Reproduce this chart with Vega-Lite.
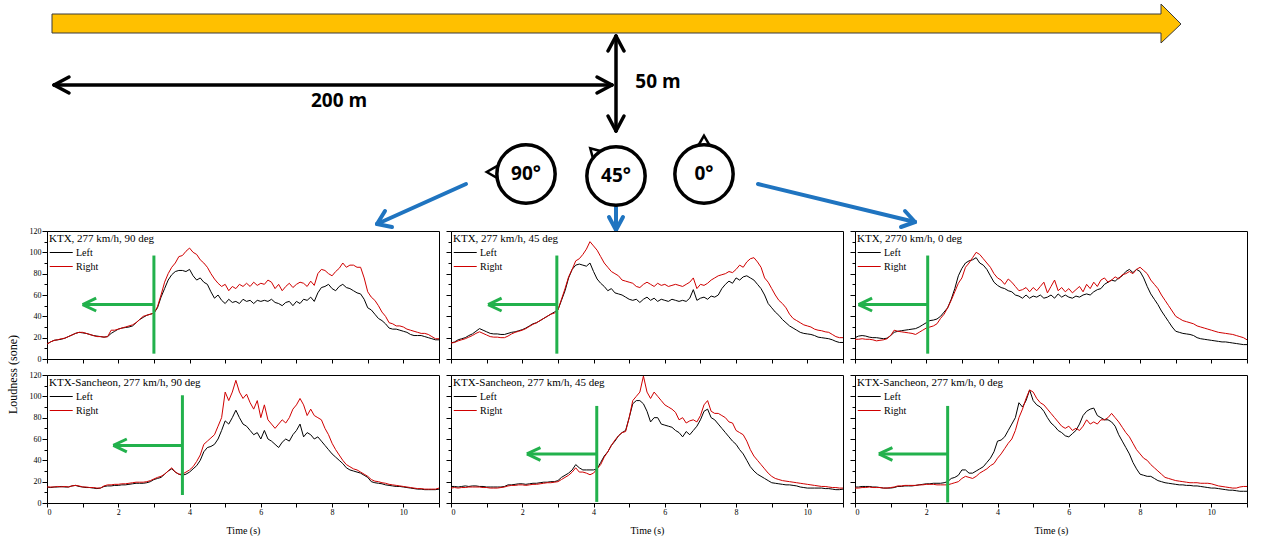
{
"$schema":"https://vega.github.io/schema/vega-lite/v6.json",
"padding":{"left":5,"top":0,"right":0,"bottom":0},
"bounds":"flush",
"spacing":0,
"datasets":{
"track":[{"o":1,"x":54,"y":14},{"o":2,"x":1163,"y":14},{"o":3,"x":1163,"y":4},{"o":4,"x":1183,"y":24},{"o":5,"x":1163,"y":43},{"o":6,"x":1163,"y":33},{"o":7,"x":54,"y":33},{"o":8,"x":54,"y":14}],
"dims":[{"x":56,"y":85,"x2":614,"y2":85},{"x":56,"y":85,"x2":71,"y2":77},{"x":56,"y":85,"x2":71,"y2":93},{"x":614,"y":85,"x2":599,"y2":77},{"x":614,"y":85,"x2":599,"y2":93},{"x":618,"y":36,"x2":618,"y2":131},{"x":618,"y":36,"x2":610,"y2":51},{"x":618,"y":36,"x2":626,"y2":51},{"x":618,"y":131,"x2":610,"y2":116},{"x":618,"y":131,"x2":626,"y2":116}],
"rays":[{"x":468,"y":184,"x2":379,"y2":224},{"x":379,"y":224,"x2":394,"y2":227},{"x":379,"y":224,"x2":387,"y2":211},{"x":618,"y":207,"x2":618,"y2":230},{"x":618,"y":230,"x2":611,"y2":217},{"x":618,"y":230,"x2":625,"y2":217},{"x":760,"y":184,"x2":917,"y2":222},{"x":917,"y":222,"x2":907,"y2":211},{"x":917,"y":222,"x2":903,"y2":227}],
"ears":[{"x":494,"y":172,"a":-90},{"x":596,"y":152,"a":-45},{"x":706,"y":141,"a":0}],
"heads":[{"x":528,"y":174,"label":"90°"},{"x":618,"y":176,"label":"45°"},{"x":706,"y":174,"label":"0°"}],
"dimtext":[{"x":341,"y":101,"label":"200 m"},{"x":660,"y":82,"label":"50 m"}],
"green":[
{"p":"K90","t1":3.0,"t2":3.0,"s1":5,"s2":97},{"p":"K90","t1":3.0,"t2":1.0,"s1":51,"s2":51},{"p":"K90","t1":1.0,"t2":1.38,"s1":51,"s2":57},{"p":"K90","t1":1.0,"t2":1.38,"s1":51,"s2":45},
{"p":"K45","t1":2.97,"t2":2.97,"s1":5,"s2":97},{"p":"K45","t1":2.97,"t2":1.04,"s1":51,"s2":51},{"p":"K45","t1":1.04,"t2":1.42,"s1":51,"s2":57},{"p":"K45","t1":1.04,"t2":1.42,"s1":51,"s2":45},
{"p":"K0","t1":2.04,"t2":2.04,"s1":5,"s2":97},{"p":"K0","t1":2.04,"t2":0.1,"s1":51,"s2":51},{"p":"K0","t1":0.1,"t2":0.48,"s1":51,"s2":57},{"p":"K0","t1":0.1,"t2":0.48,"s1":51,"s2":45},
{"p":"S90","t1":3.8,"t2":3.8,"s1":7.5,"s2":101},{"p":"S90","t1":3.8,"t2":1.86,"s1":54,"s2":54},{"p":"S90","t1":1.86,"t2":2.24,"s1":54,"s2":60},{"p":"S90","t1":1.86,"t2":2.24,"s1":54,"s2":48},
{"p":"S45","t1":4.09,"t2":4.09,"s1":1,"s2":91},{"p":"S45","t1":4.09,"t2":2.13,"s1":46,"s2":46},{"p":"S45","t1":2.13,"t2":2.51,"s1":46,"s2":52},{"p":"S45","t1":2.13,"t2":2.51,"s1":46,"s2":40},
{"p":"S0","t1":2.6,"t2":2.6,"s1":0.5,"s2":91},{"p":"S0","t1":2.6,"t2":0.67,"s1":46,"s2":46},{"p":"S0","t1":0.67,"t2":1.05,"s1":46,"s2":52},{"p":"S0","t1":0.67,"t2":1.05,"s1":46,"s2":40}
],
"loud":[
{"p":"K90","t":0.0,"Left":14,"Right":14},{"p":"K90","t":0.1,"Left":16,"Right":16},{"p":"K90","t":0.2,"Left":17.5,"Right":17.5},{"p":"K90","t":0.3,"Left":18,"Right":18},{"p":"K90","t":0.4,"Left":18.5,"Right":19},{"p":"K90","t":0.5,"Left":19.5,"Right":19.5},{"p":"K90","t":0.6,"Left":21,"Right":21},{"p":"K90","t":0.7,"Left":22.5,"Right":22.5},{"p":"K90","t":0.8,"Left":24,"Right":24},{"p":"K90","t":0.9,"Left":25,"Right":25},
{"p":"K90","t":1.0,"Left":24.5,"Right":25},{"p":"K90","t":1.1,"Left":24,"Right":24},{"p":"K90","t":1.2,"Left":23,"Right":23},{"p":"K90","t":1.3,"Left":22,"Right":22},{"p":"K90","t":1.4,"Left":21.5,"Right":21},{"p":"K90","t":1.5,"Left":21,"Right":21},{"p":"K90","t":1.6,"Left":20.5,"Right":20.5},{"p":"K90","t":1.7,"Left":21,"Right":21},{"p":"K90","t":1.8,"Left":24,"Right":27},{"p":"K90","t":1.9,"Left":26,"Right":27},
{"p":"K90","t":2.0,"Left":28,"Right":28},{"p":"K90","t":2.1,"Left":29,"Right":29},{"p":"K90","t":2.2,"Left":29.5,"Right":30},{"p":"K90","t":2.3,"Left":30,"Right":31},{"p":"K90","t":2.4,"Left":31,"Right":32},{"p":"K90","t":2.5,"Left":34,"Right":34},{"p":"K90","t":2.6,"Left":37,"Right":37},{"p":"K90","t":2.7,"Left":39,"Right":40},{"p":"K90","t":2.8,"Left":41,"Right":41},{"p":"K90","t":2.9,"Left":42,"Right":42},
{"p":"K90","t":3.0,"Left":43,"Right":43},{"p":"K90","t":3.1,"Left":48,"Right":49},{"p":"K90","t":3.2,"Left":58,"Right":60},{"p":"K90","t":3.3,"Left":66,"Right":72},{"p":"K90","t":3.4,"Left":74,"Right":80},{"p":"K90","t":3.5,"Left":79,"Right":86},{"p":"K90","t":3.6,"Left":82,"Right":90},{"p":"K90","t":3.7,"Left":83,"Right":96},{"p":"K90","t":3.8,"Left":83,"Right":97},{"p":"K90","t":3.9,"Left":82,"Right":101},
{"p":"K90","t":4.0,"Left":84,"Right":104},{"p":"K90","t":4.1,"Left":78,"Right":100},{"p":"K90","t":4.2,"Left":74,"Right":98},{"p":"K90","t":4.3,"Left":76,"Right":93},{"p":"K90","t":4.4,"Left":72,"Right":90},{"p":"K90","t":4.5,"Left":70,"Right":86},{"p":"K90","t":4.6,"Left":63,"Right":80},{"p":"K90","t":4.7,"Left":57,"Right":75},{"p":"K90","t":4.8,"Left":60,"Right":71},{"p":"K90","t":4.9,"Left":55,"Right":68},
{"p":"K90","t":5.0,"Left":52,"Right":70},{"p":"K90","t":5.1,"Left":56,"Right":64},{"p":"K90","t":5.2,"Left":53,"Right":68},{"p":"K90","t":5.3,"Left":54,"Right":66},{"p":"K90","t":5.4,"Left":52,"Right":70},{"p":"K90","t":5.5,"Left":56,"Right":68},{"p":"K90","t":5.6,"Left":54,"Right":71},{"p":"K90","t":5.7,"Left":55,"Right":68},{"p":"K90","t":5.8,"Left":52,"Right":72},{"p":"K90","t":5.9,"Left":55,"Right":69},
{"p":"K90","t":6.0,"Left":54,"Right":71},{"p":"K90","t":6.1,"Left":55,"Right":70},{"p":"K90","t":6.2,"Left":54,"Right":74},{"p":"K90","t":6.3,"Left":56,"Right":72},{"p":"K90","t":6.4,"Left":53,"Right":66},{"p":"K90","t":6.5,"Left":52,"Right":70},{"p":"K90","t":6.6,"Left":50,"Right":64},{"p":"K90","t":6.7,"Left":53,"Right":68},{"p":"K90","t":6.8,"Left":54,"Right":71},{"p":"K90","t":6.9,"Left":50,"Right":67},
{"p":"K90","t":7.0,"Left":54,"Right":70},{"p":"K90","t":7.1,"Left":52,"Right":72},{"p":"K90","t":7.2,"Left":56,"Right":71},{"p":"K90","t":7.3,"Left":55,"Right":68},{"p":"K90","t":7.4,"Left":58,"Right":73},{"p":"K90","t":7.5,"Left":54,"Right":69},{"p":"K90","t":7.6,"Left":62,"Right":80},{"p":"K90","t":7.7,"Left":67,"Right":84},{"p":"K90","t":7.8,"Left":68,"Right":83},{"p":"K90","t":7.9,"Left":70,"Right":80},
{"p":"K90","t":8.0,"Left":66,"Right":78},{"p":"K90","t":8.1,"Left":64,"Right":82},{"p":"K90","t":8.2,"Left":68,"Right":85},{"p":"K90","t":8.3,"Left":70,"Right":90},{"p":"K90","t":8.4,"Left":67,"Right":86},{"p":"K90","t":8.5,"Left":66,"Right":88},{"p":"K90","t":8.6,"Left":64,"Right":88},{"p":"K90","t":8.7,"Left":62,"Right":86},{"p":"K90","t":8.8,"Left":61,"Right":86},{"p":"K90","t":8.9,"Left":56,"Right":76},
{"p":"K90","t":9.0,"Left":48,"Right":63},{"p":"K90","t":9.1,"Left":46,"Right":58},{"p":"K90","t":9.2,"Left":42,"Right":55},{"p":"K90","t":9.3,"Left":38,"Right":50},{"p":"K90","t":9.4,"Left":36,"Right":44},{"p":"K90","t":9.5,"Left":33,"Right":40},{"p":"K90","t":9.6,"Left":29,"Right":34},{"p":"K90","t":9.7,"Left":28,"Right":33},{"p":"K90","t":9.8,"Left":28,"Right":31},{"p":"K90","t":9.9,"Left":27,"Right":31},
{"p":"K90","t":10.0,"Left":26,"Right":30},{"p":"K90","t":10.1,"Left":25,"Right":28},{"p":"K90","t":10.2,"Left":23,"Right":27},{"p":"K90","t":10.3,"Left":22,"Right":26},{"p":"K90","t":10.4,"Left":22,"Right":25},{"p":"K90","t":10.5,"Left":22,"Right":24},{"p":"K90","t":10.6,"Left":21,"Right":24},{"p":"K90","t":10.7,"Left":20,"Right":23},{"p":"K90","t":10.8,"Left":19,"Right":21},{"p":"K90","t":10.9,"Left":18,"Right":19},{"p":"K90","t":11.0,"Left":18,"Right":19},

{"p":"K45","t":0.0,"Left":15,"Right":15},{"p":"K45","t":0.1,"Left":16,"Right":15.5},{"p":"K45","t":0.2,"Left":18,"Right":17},{"p":"K45","t":0.3,"Left":19,"Right":18},{"p":"K45","t":0.4,"Left":20,"Right":19},{"p":"K45","t":0.5,"Left":22,"Right":20.5},{"p":"K45","t":0.6,"Left":23.5,"Right":22},{"p":"K45","t":0.7,"Left":26,"Right":24},{"p":"K45","t":0.8,"Left":28.5,"Right":25.5},{"p":"K45","t":0.9,"Left":27,"Right":24},
{"p":"K45","t":1.0,"Left":25.5,"Right":22.5},{"p":"K45","t":1.1,"Left":24,"Right":21},{"p":"K45","t":1.2,"Left":23.5,"Right":20.5},{"p":"K45","t":1.3,"Left":23.5,"Right":20.5},{"p":"K45","t":1.4,"Left":23,"Right":20},{"p":"K45","t":1.5,"Left":23,"Right":20},{"p":"K45","t":1.6,"Left":24,"Right":21.5},{"p":"K45","t":1.7,"Left":25,"Right":23.5},{"p":"K45","t":1.8,"Left":25.5,"Right":25},{"p":"K45","t":1.9,"Left":26.5,"Right":26},
{"p":"K45","t":2.0,"Left":27.5,"Right":27},{"p":"K45","t":2.1,"Left":29,"Right":28.5},{"p":"K45","t":2.2,"Left":31,"Right":30.5},{"p":"K45","t":2.3,"Left":33,"Right":32.5},{"p":"K45","t":2.4,"Left":34,"Right":34},{"p":"K45","t":2.5,"Left":36,"Right":36},{"p":"K45","t":2.6,"Left":38,"Right":38},{"p":"K45","t":2.7,"Left":40,"Right":40},{"p":"K45","t":2.8,"Left":42,"Right":42},{"p":"K45","t":2.9,"Left":44,"Right":43},
{"p":"K45","t":3.0,"Left":46,"Right":46},{"p":"K45","t":3.1,"Left":55,"Right":56},{"p":"K45","t":3.2,"Left":64,"Right":66},{"p":"K45","t":3.3,"Left":76,"Right":77},{"p":"K45","t":3.4,"Left":84,"Right":84},{"p":"K45","t":3.5,"Left":88,"Right":92},{"p":"K45","t":3.6,"Left":89,"Right":94},{"p":"K45","t":3.7,"Left":88,"Right":98},{"p":"K45","t":3.8,"Left":87,"Right":103},{"p":"K45","t":3.9,"Left":90,"Right":110},
{"p":"K45","t":4.0,"Left":82,"Right":106},{"p":"K45","t":4.1,"Left":75,"Right":102},{"p":"K45","t":4.2,"Left":71,"Right":96},{"p":"K45","t":4.3,"Left":68,"Right":90},{"p":"K45","t":4.4,"Left":64,"Right":86},{"p":"K45","t":4.5,"Left":66,"Right":82},{"p":"K45","t":4.6,"Left":62,"Right":80},{"p":"K45","t":4.7,"Left":61,"Right":78},{"p":"K45","t":4.8,"Left":60,"Right":74},{"p":"K45","t":4.9,"Left":58,"Right":73},
{"p":"K45","t":5.0,"Left":56,"Right":72},{"p":"K45","t":5.1,"Left":55,"Right":71},{"p":"K45","t":5.2,"Left":56,"Right":68},{"p":"K45","t":5.3,"Left":53,"Right":67},{"p":"K45","t":5.4,"Left":56,"Right":70},{"p":"K45","t":5.5,"Left":58,"Right":72},{"p":"K45","t":5.6,"Left":55,"Right":70},{"p":"K45","t":5.7,"Left":57,"Right":68},{"p":"K45","t":5.8,"Left":54,"Right":71},{"p":"K45","t":5.9,"Left":56,"Right":69},
{"p":"K45","t":6.0,"Left":55,"Right":70},{"p":"K45","t":6.1,"Left":54,"Right":68},{"p":"K45","t":6.2,"Left":56,"Right":69},{"p":"K45","t":6.3,"Left":55,"Right":70},{"p":"K45","t":6.4,"Left":54,"Right":69},{"p":"K45","t":6.5,"Left":55,"Right":68},{"p":"K45","t":6.6,"Left":54,"Right":70},{"p":"K45","t":6.7,"Left":57,"Right":72},{"p":"K45","t":6.8,"Left":65,"Right":76},{"p":"K45","t":6.9,"Left":55,"Right":66},
{"p":"K45","t":7.0,"Left":57,"Right":70},{"p":"K45","t":7.1,"Left":58,"Right":69},{"p":"K45","t":7.2,"Left":56,"Right":71},{"p":"K45","t":7.3,"Left":59,"Right":74},{"p":"K45","t":7.4,"Left":58,"Right":76},{"p":"K45","t":7.5,"Left":60,"Right":78},{"p":"K45","t":7.6,"Left":66,"Right":79},{"p":"K45","t":7.7,"Left":70,"Right":80},{"p":"K45","t":7.8,"Left":73,"Right":82},{"p":"K45","t":7.9,"Left":71,"Right":81},
{"p":"K45","t":8.0,"Left":76,"Right":84},{"p":"K45","t":8.1,"Left":74,"Right":88},{"p":"K45","t":8.2,"Left":77,"Right":86},{"p":"K45","t":8.3,"Left":78,"Right":91},{"p":"K45","t":8.4,"Left":76,"Right":94},{"p":"K45","t":8.5,"Left":74,"Right":95},{"p":"K45","t":8.6,"Left":70,"Right":91},{"p":"K45","t":8.7,"Left":66,"Right":86},{"p":"K45","t":8.8,"Left":60,"Right":76},{"p":"K45","t":8.9,"Left":52,"Right":72},
{"p":"K45","t":9.0,"Left":48,"Right":66},{"p":"K45","t":9.1,"Left":44,"Right":60},{"p":"K45","t":9.2,"Left":41,"Right":55},{"p":"K45","t":9.3,"Left":37,"Right":52},{"p":"K45","t":9.4,"Left":34,"Right":48},{"p":"K45","t":9.5,"Left":31,"Right":42},{"p":"K45","t":9.6,"Left":29,"Right":38},{"p":"K45","t":9.7,"Left":27,"Right":36},{"p":"K45","t":9.8,"Left":25,"Right":34},{"p":"K45","t":9.9,"Left":24,"Right":32},
{"p":"K45","t":10.0,"Left":23.5,"Right":31},{"p":"K45","t":10.1,"Left":23,"Right":30},{"p":"K45","t":10.2,"Left":22,"Right":28},{"p":"K45","t":10.3,"Left":20.5,"Right":27},{"p":"K45","t":10.4,"Left":20,"Right":26.5},{"p":"K45","t":10.5,"Left":19.5,"Right":25.5},{"p":"K45","t":10.6,"Left":19,"Right":25},{"p":"K45","t":10.7,"Left":18,"Right":23},{"p":"K45","t":10.8,"Left":16.5,"Right":21},{"p":"K45","t":10.9,"Left":15.5,"Right":20},{"p":"K45","t":11.0,"Left":15.5,"Right":20},

{"p":"K0","t":0.0,"Left":20,"Right":18.5},{"p":"K0","t":0.1,"Left":21.5,"Right":18.5},{"p":"K0","t":0.2,"Left":22,"Right":19},{"p":"K0","t":0.3,"Left":21.5,"Right":18.5},{"p":"K0","t":0.4,"Left":20.5,"Right":18.5},{"p":"K0","t":0.5,"Left":20,"Right":18},{"p":"K0","t":0.6,"Left":20,"Right":17},{"p":"K0","t":0.7,"Left":19.5,"Right":17.5},{"p":"K0","t":0.8,"Left":19,"Right":18},{"p":"K0","t":0.9,"Left":19.5,"Right":19},
{"p":"K0","t":1.0,"Left":22,"Right":22},{"p":"K0","t":1.1,"Left":25,"Right":27},{"p":"K0","t":1.2,"Left":26,"Right":26},{"p":"K0","t":1.3,"Left":26.5,"Right":25.5},{"p":"K0","t":1.4,"Left":27,"Right":25},{"p":"K0","t":1.5,"Left":27.5,"Right":24.5},{"p":"K0","t":1.6,"Left":28,"Right":24},{"p":"K0","t":1.7,"Left":28.5,"Right":23},{"p":"K0","t":1.8,"Left":30,"Right":25},{"p":"K0","t":1.9,"Left":32,"Right":27},
{"p":"K0","t":2.0,"Left":34,"Right":29},{"p":"K0","t":2.1,"Left":36,"Right":30},{"p":"K0","t":2.2,"Left":36.5,"Right":31},{"p":"K0","t":2.3,"Left":37.5,"Right":33},{"p":"K0","t":2.4,"Left":40,"Right":38},{"p":"K0","t":2.5,"Left":44,"Right":42},{"p":"K0","t":2.6,"Left":48,"Right":48},{"p":"K0","t":2.7,"Left":56,"Right":55},{"p":"K0","t":2.8,"Left":66,"Right":63},{"p":"K0","t":2.9,"Left":78,"Right":71},
{"p":"K0","t":3.0,"Left":85,"Right":76},{"p":"K0","t":3.1,"Left":90,"Right":86},{"p":"K0","t":3.2,"Left":92,"Right":90},{"p":"K0","t":3.3,"Left":93,"Right":95},{"p":"K0","t":3.4,"Left":95,"Right":100},{"p":"K0","t":3.5,"Left":90,"Right":98},{"p":"K0","t":3.6,"Left":88,"Right":94},{"p":"K0","t":3.7,"Left":84,"Right":90},{"p":"K0","t":3.8,"Left":78,"Right":86},{"p":"K0","t":3.9,"Left":72,"Right":80},
{"p":"K0","t":4.0,"Left":69,"Right":76},{"p":"K0","t":4.1,"Left":67,"Right":74},{"p":"K0","t":4.2,"Left":66,"Right":70},{"p":"K0","t":4.3,"Left":64,"Right":75},{"p":"K0","t":4.4,"Left":63,"Right":72},{"p":"K0","t":4.5,"Left":60,"Right":68},{"p":"K0","t":4.6,"Left":59,"Right":64},{"p":"K0","t":4.7,"Left":57,"Right":65},{"p":"K0","t":4.8,"Left":60,"Right":67},{"p":"K0","t":4.9,"Left":57,"Right":63},
{"p":"K0","t":5.0,"Left":59,"Right":67},{"p":"K0","t":5.1,"Left":58,"Right":64},{"p":"K0","t":5.2,"Left":60,"Right":68},{"p":"K0","t":5.3,"Left":57,"Right":72},{"p":"K0","t":5.4,"Left":58,"Right":62},{"p":"K0","t":5.5,"Left":60,"Right":68},{"p":"K0","t":5.6,"Left":57,"Right":74},{"p":"K0","t":5.7,"Left":61,"Right":64},{"p":"K0","t":5.8,"Left":58,"Right":67},{"p":"K0","t":5.9,"Left":60,"Right":63},
{"p":"K0","t":6.0,"Left":58,"Right":66},{"p":"K0","t":6.1,"Left":57,"Right":62},{"p":"K0","t":6.2,"Left":59,"Right":65},{"p":"K0","t":6.3,"Left":58,"Right":68},{"p":"K0","t":6.4,"Left":60,"Right":63},{"p":"K0","t":6.5,"Left":61,"Right":70},{"p":"K0","t":6.6,"Left":60,"Right":66},{"p":"K0","t":6.7,"Left":63,"Right":72},{"p":"K0","t":6.8,"Left":65,"Right":68},{"p":"K0","t":6.9,"Left":66,"Right":74},
{"p":"K0","t":7.0,"Left":70,"Right":76},{"p":"K0","t":7.1,"Left":72,"Right":72},{"p":"K0","t":7.2,"Left":74,"Right":74},{"p":"K0","t":7.3,"Left":73,"Right":77},{"p":"K0","t":7.4,"Left":76,"Right":75},{"p":"K0","t":7.5,"Left":78,"Right":79},{"p":"K0","t":7.6,"Left":82,"Right":80},{"p":"K0","t":7.7,"Left":84,"Right":82},{"p":"K0","t":7.8,"Left":81,"Right":80},{"p":"K0","t":7.9,"Left":84,"Right":84},
{"p":"K0","t":8.0,"Left":82,"Right":86},{"p":"K0","t":8.1,"Left":76,"Right":83},{"p":"K0","t":8.2,"Left":68,"Right":80},{"p":"K0","t":8.3,"Left":61,"Right":74},{"p":"K0","t":8.4,"Left":56,"Right":70},{"p":"K0","t":8.5,"Left":51,"Right":66},{"p":"K0","t":8.6,"Left":45,"Right":60},{"p":"K0","t":8.7,"Left":40,"Right":55},{"p":"K0","t":8.8,"Left":35,"Right":50},{"p":"K0","t":8.9,"Left":30,"Right":45},
{"p":"K0","t":9.0,"Left":26,"Right":40},{"p":"K0","t":9.1,"Left":25,"Right":38},{"p":"K0","t":9.2,"Left":24,"Right":36},{"p":"K0","t":9.3,"Left":23.5,"Right":35},{"p":"K0","t":9.4,"Left":23,"Right":34},{"p":"K0","t":9.5,"Left":22,"Right":33},{"p":"K0","t":9.6,"Left":20,"Right":31},{"p":"K0","t":9.7,"Left":19,"Right":30},{"p":"K0","t":9.8,"Left":18.5,"Right":29},{"p":"K0","t":9.9,"Left":18,"Right":28},
{"p":"K0","t":10.0,"Left":17.5,"Right":27},{"p":"K0","t":10.1,"Left":17,"Right":26},{"p":"K0","t":10.2,"Left":16.5,"Right":25},{"p":"K0","t":10.3,"Left":16,"Right":24.5},{"p":"K0","t":10.4,"Left":16,"Right":24},{"p":"K0","t":10.5,"Left":15.5,"Right":23.5},{"p":"K0","t":10.6,"Left":15,"Right":23},{"p":"K0","t":10.7,"Left":14.5,"Right":22},{"p":"K0","t":10.8,"Left":14,"Right":21},{"p":"K0","t":10.9,"Left":13.5,"Right":20},{"p":"K0","t":11.0,"Left":13.5,"Right":18},

{"p":"S90","t":0.0,"Left":15,"Right":15},{"p":"S90","t":0.1,"Left":14.5,"Right":15},{"p":"S90","t":0.2,"Left":15,"Right":15},{"p":"S90","t":0.3,"Left":15,"Right":15.5},{"p":"S90","t":0.4,"Left":15.5,"Right":15},{"p":"S90","t":0.5,"Left":15,"Right":15.5},{"p":"S90","t":0.6,"Left":15,"Right":15},{"p":"S90","t":0.7,"Left":16,"Right":16},{"p":"S90","t":0.8,"Left":16.5,"Right":16.5},{"p":"S90","t":0.9,"Left":15.5,"Right":16},
{"p":"S90","t":1.0,"Left":15,"Right":15},{"p":"S90","t":1.1,"Left":14.5,"Right":15},{"p":"S90","t":1.2,"Left":14.5,"Right":14.5},{"p":"S90","t":1.3,"Left":14,"Right":14.5},{"p":"S90","t":1.4,"Left":13.5,"Right":14},{"p":"S90","t":1.5,"Left":14,"Right":14},{"p":"S90","t":1.6,"Left":15.5,"Right":16},{"p":"S90","t":1.7,"Left":16,"Right":17},{"p":"S90","t":1.8,"Left":16,"Right":17},{"p":"S90","t":1.9,"Left":16.5,"Right":17.5},
{"p":"S90","t":2.0,"Left":16.5,"Right":17.5},{"p":"S90","t":2.1,"Left":17,"Right":18},{"p":"S90","t":2.2,"Left":17,"Right":18},{"p":"S90","t":2.3,"Left":17.5,"Right":18.5},{"p":"S90","t":2.4,"Left":18,"Right":19},{"p":"S90","t":2.5,"Left":18.5,"Right":19.5},{"p":"S90","t":2.6,"Left":18.5,"Right":19.5},{"p":"S90","t":2.7,"Left":18.5,"Right":19.5},{"p":"S90","t":2.8,"Left":19,"Right":20},{"p":"S90","t":2.9,"Left":20,"Right":21},
{"p":"S90","t":3.0,"Left":22,"Right":22.5},{"p":"S90","t":3.1,"Left":23,"Right":24},{"p":"S90","t":3.2,"Left":24,"Right":25},{"p":"S90","t":3.3,"Left":27,"Right":27},{"p":"S90","t":3.4,"Left":30,"Right":30},{"p":"S90","t":3.5,"Left":32,"Right":33},{"p":"S90","t":3.6,"Left":29,"Right":29},{"p":"S90","t":3.7,"Left":27,"Right":27},{"p":"S90","t":3.8,"Left":26,"Right":27},{"p":"S90","t":3.9,"Left":27,"Right":29},
{"p":"S90","t":4.0,"Left":29,"Right":31},{"p":"S90","t":4.1,"Left":32,"Right":34},{"p":"S90","t":4.2,"Left":35,"Right":39},{"p":"S90","t":4.3,"Left":40,"Right":45},{"p":"S90","t":4.4,"Left":48,"Right":55},{"p":"S90","t":4.5,"Left":52,"Right":58},{"p":"S90","t":4.6,"Left":53,"Right":61},{"p":"S90","t":4.7,"Left":55,"Right":64},{"p":"S90","t":4.8,"Left":60,"Right":72},{"p":"S90","t":4.9,"Left":68,"Right":80},
{"p":"S90","t":5.0,"Left":77,"Right":104},{"p":"S90","t":5.1,"Left":74,"Right":96},{"p":"S90","t":5.2,"Left":80,"Right":104},{"p":"S90","t":5.3,"Left":87,"Right":115},{"p":"S90","t":5.4,"Left":80,"Right":104},{"p":"S90","t":5.5,"Left":74,"Right":98},{"p":"S90","t":5.6,"Left":72,"Right":102},{"p":"S90","t":5.7,"Left":68,"Right":94},{"p":"S90","t":5.8,"Left":64,"Right":88},{"p":"S90","t":5.9,"Left":66,"Right":96},
{"p":"S90","t":6.0,"Left":60,"Right":80},{"p":"S90","t":6.1,"Left":68,"Right":92},{"p":"S90","t":6.2,"Left":60,"Right":78},{"p":"S90","t":6.3,"Left":58,"Right":74},{"p":"S90","t":6.4,"Left":55,"Right":70},{"p":"S90","t":6.5,"Left":52,"Right":74},{"p":"S90","t":6.6,"Left":57,"Right":78},{"p":"S90","t":6.7,"Left":60,"Right":75},{"p":"S90","t":6.8,"Left":58,"Right":80},{"p":"S90","t":6.9,"Left":64,"Right":88},
{"p":"S90","t":7.0,"Left":68,"Right":92},{"p":"S90","t":7.1,"Left":74,"Right":98},{"p":"S90","t":7.2,"Left":62,"Right":92},{"p":"S90","t":7.3,"Left":66,"Right":82},{"p":"S90","t":7.4,"Left":64,"Right":88},{"p":"S90","t":7.5,"Left":60,"Right":82},{"p":"S90","t":7.6,"Left":62,"Right":80},{"p":"S90","t":7.7,"Left":58,"Right":78},{"p":"S90","t":7.8,"Left":54,"Right":70},{"p":"S90","t":7.9,"Left":50,"Right":64},
{"p":"S90","t":8.0,"Left":46,"Right":56},{"p":"S90","t":8.1,"Left":43,"Right":50},{"p":"S90","t":8.2,"Left":40,"Right":45},{"p":"S90","t":8.3,"Left":37,"Right":40},{"p":"S90","t":8.4,"Left":33,"Right":36},{"p":"S90","t":8.5,"Left":31,"Right":34},{"p":"S90","t":8.6,"Left":30,"Right":32},{"p":"S90","t":8.7,"Left":29,"Right":31},{"p":"S90","t":8.8,"Left":28,"Right":29},{"p":"S90","t":8.9,"Left":26,"Right":27},
{"p":"S90","t":9.0,"Left":24,"Right":25},{"p":"S90","t":9.1,"Left":20,"Right":22},{"p":"S90","t":9.2,"Left":19,"Right":20.5},{"p":"S90","t":9.3,"Left":18.5,"Right":20},{"p":"S90","t":9.4,"Left":18,"Right":19},{"p":"S90","t":9.5,"Left":17,"Right":18.5},{"p":"S90","t":9.6,"Left":16.5,"Right":17.5},{"p":"S90","t":9.7,"Left":16,"Right":17},{"p":"S90","t":9.8,"Left":15.5,"Right":16.5},{"p":"S90","t":9.9,"Left":15.5,"Right":16},
{"p":"S90","t":10.0,"Left":15,"Right":15.5},{"p":"S90","t":10.1,"Left":14.5,"Right":15},{"p":"S90","t":10.2,"Left":14,"Right":14.5},{"p":"S90","t":10.3,"Left":13.5,"Right":14},{"p":"S90","t":10.4,"Left":13,"Right":13.5},{"p":"S90","t":10.5,"Left":13,"Right":13.5},{"p":"S90","t":10.6,"Left":12.5,"Right":13},{"p":"S90","t":10.7,"Left":12.5,"Right":13},{"p":"S90","t":10.8,"Left":12.5,"Right":13},{"p":"S90","t":10.9,"Left":12.5,"Right":13},{"p":"S90","t":11.0,"Left":13,"Right":14},

{"p":"S45","t":0.0,"Left":15.5,"Right":14},{"p":"S45","t":0.1,"Left":15.5,"Right":14.5},{"p":"S45","t":0.2,"Left":15,"Right":14},{"p":"S45","t":0.3,"Left":15.5,"Right":14.5},{"p":"S45","t":0.4,"Left":16,"Right":14.5},{"p":"S45","t":0.5,"Left":15.5,"Right":15},{"p":"S45","t":0.6,"Left":16,"Right":15},{"p":"S45","t":0.7,"Left":16,"Right":15},{"p":"S45","t":0.8,"Left":15.5,"Right":15},{"p":"S45","t":0.9,"Left":15.5,"Right":14.5},
{"p":"S45","t":1.0,"Left":15,"Right":14.5},{"p":"S45","t":1.1,"Left":15,"Right":14},{"p":"S45","t":1.2,"Left":15,"Right":14},{"p":"S45","t":1.3,"Left":15,"Right":14},{"p":"S45","t":1.4,"Left":15,"Right":14.5},{"p":"S45","t":1.5,"Left":15.5,"Right":15},{"p":"S45","t":1.6,"Left":17,"Right":16},{"p":"S45","t":1.7,"Left":17,"Right":16.5},{"p":"S45","t":1.8,"Left":17.5,"Right":16.5},{"p":"S45","t":1.9,"Left":18,"Right":17},
{"p":"S45","t":2.0,"Left":18,"Right":17},{"p":"S45","t":2.1,"Left":17.5,"Right":16.5},{"p":"S45","t":2.2,"Left":18,"Right":17},{"p":"S45","t":2.3,"Left":18.5,"Right":17.5},{"p":"S45","t":2.4,"Left":18.5,"Right":17.5},{"p":"S45","t":2.5,"Left":19,"Right":18},{"p":"S45","t":2.6,"Left":19.5,"Right":18.5},{"p":"S45","t":2.7,"Left":19.5,"Right":19},{"p":"S45","t":2.8,"Left":20,"Right":19},{"p":"S45","t":2.9,"Left":20,"Right":19.5},
{"p":"S45","t":3.0,"Left":21,"Right":20},{"p":"S45","t":3.1,"Left":24,"Right":22},{"p":"S45","t":3.2,"Left":26,"Right":24},{"p":"S45","t":3.3,"Left":28,"Right":26},{"p":"S45","t":3.4,"Left":31,"Right":29},{"p":"S45","t":3.5,"Left":36,"Right":33},{"p":"S45","t":3.6,"Left":33,"Right":29},{"p":"S45","t":3.7,"Left":31,"Right":29},{"p":"S45","t":3.8,"Left":31,"Right":28},{"p":"S45","t":3.9,"Left":31,"Right":26.5},
{"p":"S45","t":4.0,"Left":31,"Right":28},{"p":"S45","t":4.1,"Left":32,"Right":32},{"p":"S45","t":4.2,"Left":38,"Right":36},{"p":"S45","t":4.3,"Left":44,"Right":43},{"p":"S45","t":4.4,"Left":48,"Right":48},{"p":"S45","t":4.5,"Left":54,"Right":54},{"p":"S45","t":4.6,"Left":58,"Right":59},{"p":"S45","t":4.7,"Left":63,"Right":63},{"p":"S45","t":4.8,"Left":66,"Right":66},{"p":"S45","t":4.9,"Left":68,"Right":67},
{"p":"S45","t":5.0,"Left":80,"Right":80},{"p":"S45","t":5.1,"Left":93,"Right":96},{"p":"S45","t":5.2,"Left":96,"Right":100},{"p":"S45","t":5.3,"Left":96,"Right":104},{"p":"S45","t":5.4,"Left":93,"Right":119},{"p":"S45","t":5.5,"Left":86,"Right":104},{"p":"S45","t":5.6,"Left":76,"Right":98},{"p":"S45","t":5.7,"Left":80,"Right":104},{"p":"S45","t":5.8,"Left":80,"Right":100},{"p":"S45","t":5.9,"Left":74,"Right":96},
{"p":"S45","t":6.0,"Left":73,"Right":92},{"p":"S45","t":6.1,"Left":72,"Right":90},{"p":"S45","t":6.2,"Left":71,"Right":88},{"p":"S45","t":6.3,"Left":68,"Right":85},{"p":"S45","t":6.4,"Left":66,"Right":78},{"p":"S45","t":6.5,"Left":62,"Right":80},{"p":"S45","t":6.6,"Left":67,"Right":75},{"p":"S45","t":6.7,"Left":64,"Right":77},{"p":"S45","t":6.8,"Left":68,"Right":78},{"p":"S45","t":6.9,"Left":72,"Right":76},
{"p":"S45","t":7.0,"Left":78,"Right":82},{"p":"S45","t":7.1,"Left":86,"Right":92},{"p":"S45","t":7.2,"Left":88,"Right":96},{"p":"S45","t":7.3,"Left":80,"Right":86},{"p":"S45","t":7.4,"Left":78,"Right":84},{"p":"S45","t":7.5,"Left":74,"Right":84},{"p":"S45","t":7.6,"Left":70,"Right":82},{"p":"S45","t":7.7,"Left":66,"Right":80},{"p":"S45","t":7.8,"Left":62,"Right":76},{"p":"S45","t":7.9,"Left":58,"Right":75},
{"p":"S45","t":8.0,"Left":55,"Right":68},{"p":"S45","t":8.1,"Left":50,"Right":66},{"p":"S45","t":8.2,"Left":46,"Right":64},{"p":"S45","t":8.3,"Left":40,"Right":58},{"p":"S45","t":8.4,"Left":34,"Right":50},{"p":"S45","t":8.5,"Left":30,"Right":44},{"p":"S45","t":8.6,"Left":27,"Right":40},{"p":"S45","t":8.7,"Left":25,"Right":36},{"p":"S45","t":8.8,"Left":23,"Right":32},{"p":"S45","t":8.9,"Left":21,"Right":28},
{"p":"S45","t":9.0,"Left":19,"Right":25},{"p":"S45","t":9.1,"Left":18.5,"Right":23},{"p":"S45","t":9.2,"Left":18,"Right":22},{"p":"S45","t":9.3,"Left":17.5,"Right":21},{"p":"S45","t":9.4,"Left":17,"Right":20.5},{"p":"S45","t":9.5,"Left":17,"Right":20},{"p":"S45","t":9.6,"Left":16.5,"Right":19.5},{"p":"S45","t":9.7,"Left":16,"Right":19},{"p":"S45","t":9.8,"Left":15,"Right":18.5},{"p":"S45","t":9.9,"Left":14.5,"Right":18},
{"p":"S45","t":10.0,"Left":14,"Right":17.5},{"p":"S45","t":10.1,"Left":14,"Right":17},{"p":"S45","t":10.2,"Left":14,"Right":16.5},{"p":"S45","t":10.3,"Left":14,"Right":16},{"p":"S45","t":10.4,"Left":14,"Right":15.5},{"p":"S45","t":10.5,"Left":13.5,"Right":15.5},{"p":"S45","t":10.6,"Left":13.5,"Right":15},{"p":"S45","t":10.7,"Left":13,"Right":14.5},{"p":"S45","t":10.8,"Left":12.5,"Right":14.5},{"p":"S45","t":10.9,"Left":12.5,"Right":14},{"p":"S45","t":11.0,"Left":13,"Right":14},

{"p":"S0","t":0.0,"Left":15,"Right":14},{"p":"S0","t":0.1,"Left":15,"Right":14},{"p":"S0","t":0.2,"Left":15.5,"Right":14.5},{"p":"S0","t":0.3,"Left":15.5,"Right":14.5},{"p":"S0","t":0.4,"Left":15.5,"Right":15},{"p":"S0","t":0.5,"Left":15,"Right":14.5},{"p":"S0","t":0.6,"Left":15,"Right":14.5},{"p":"S0","t":0.7,"Left":14.5,"Right":14.5},{"p":"S0","t":0.8,"Left":14,"Right":14},{"p":"S0","t":0.9,"Left":14,"Right":14},
{"p":"S0","t":1.0,"Left":14,"Right":14.5},{"p":"S0","t":1.1,"Left":14.5,"Right":15},{"p":"S0","t":1.2,"Left":15.5,"Right":16},{"p":"S0","t":1.3,"Left":15.5,"Right":16},{"p":"S0","t":1.4,"Left":16,"Right":16.5},{"p":"S0","t":1.5,"Left":16,"Right":16.5},{"p":"S0","t":1.6,"Left":16,"Right":16.5},{"p":"S0","t":1.7,"Left":16.5,"Right":16.5},{"p":"S0","t":1.8,"Left":17,"Right":17},{"p":"S0","t":1.9,"Left":17.5,"Right":17},
{"p":"S0","t":2.0,"Left":18,"Right":17.5},{"p":"S0","t":2.1,"Left":18,"Right":17.5},{"p":"S0","t":2.2,"Left":18.5,"Right":17.5},{"p":"S0","t":2.3,"Left":18.5,"Right":17},{"p":"S0","t":2.4,"Left":18.5,"Right":17},{"p":"S0","t":2.5,"Left":19,"Right":17},{"p":"S0","t":2.6,"Left":20,"Right":17},{"p":"S0","t":2.7,"Left":23,"Right":18},{"p":"S0","t":2.8,"Left":24,"Right":19},{"p":"S0","t":2.9,"Left":26,"Right":20},
{"p":"S0","t":3.0,"Left":31,"Right":23},{"p":"S0","t":3.1,"Left":31,"Right":25},{"p":"S0","t":3.2,"Left":28,"Right":24},{"p":"S0","t":3.3,"Left":28,"Right":23},{"p":"S0","t":3.4,"Left":30,"Right":25},{"p":"S0","t":3.5,"Left":32,"Right":28},{"p":"S0","t":3.6,"Left":34,"Right":30},{"p":"S0","t":3.7,"Left":38,"Right":32},{"p":"S0","t":3.8,"Left":42,"Right":35},{"p":"S0","t":3.9,"Left":48,"Right":37},
{"p":"S0","t":4.0,"Left":58,"Right":42},{"p":"S0","t":4.1,"Left":59,"Right":46},{"p":"S0","t":4.2,"Left":62,"Right":51},{"p":"S0","t":4.3,"Left":68,"Right":56},{"p":"S0","t":4.4,"Left":74,"Right":60},{"p":"S0","t":4.5,"Left":80,"Right":68},{"p":"S0","t":4.6,"Left":94,"Right":80},{"p":"S0","t":4.7,"Left":90,"Right":88},{"p":"S0","t":4.8,"Left":96,"Right":98},{"p":"S0","t":4.9,"Left":106,"Right":106},
{"p":"S0","t":5.0,"Left":96,"Right":104},{"p":"S0","t":5.1,"Left":92,"Right":98},{"p":"S0","t":5.2,"Left":90,"Right":94},{"p":"S0","t":5.3,"Left":86,"Right":92},{"p":"S0","t":5.4,"Left":80,"Right":88},{"p":"S0","t":5.5,"Left":75,"Right":84},{"p":"S0","t":5.6,"Left":72,"Right":80},{"p":"S0","t":5.7,"Left":68,"Right":76},{"p":"S0","t":5.8,"Left":66,"Right":72},{"p":"S0","t":5.9,"Left":63,"Right":70},
{"p":"S0","t":6.0,"Left":62,"Right":72},{"p":"S0","t":6.1,"Left":65,"Right":68},{"p":"S0","t":6.2,"Left":68,"Right":70},{"p":"S0","t":6.3,"Left":74,"Right":68},{"p":"S0","t":6.4,"Left":82,"Right":72},{"p":"S0","t":6.5,"Left":86,"Right":78},{"p":"S0","t":6.6,"Left":88,"Right":74},{"p":"S0","t":6.7,"Left":89,"Right":76},{"p":"S0","t":6.8,"Left":82,"Right":74},{"p":"S0","t":6.9,"Left":80,"Right":78},
{"p":"S0","t":7.0,"Left":78,"Right":78},{"p":"S0","t":7.1,"Left":78,"Right":80},{"p":"S0","t":7.2,"Left":76,"Right":84},{"p":"S0","t":7.3,"Left":72,"Right":80},{"p":"S0","t":7.4,"Left":64,"Right":76},{"p":"S0","t":7.5,"Left":58,"Right":71},{"p":"S0","t":7.6,"Left":52,"Right":66},{"p":"S0","t":7.7,"Left":46,"Right":62},{"p":"S0","t":7.8,"Left":38,"Right":56},{"p":"S0","t":7.9,"Left":32,"Right":50},
{"p":"S0","t":8.0,"Left":27,"Right":46},{"p":"S0","t":8.1,"Left":26,"Right":42},{"p":"S0","t":8.2,"Left":25,"Right":40},{"p":"S0","t":8.3,"Left":25,"Right":36},{"p":"S0","t":8.4,"Left":23,"Right":33},{"p":"S0","t":8.5,"Left":21,"Right":30},{"p":"S0","t":8.6,"Left":20,"Right":27},{"p":"S0","t":8.7,"Left":19,"Right":24},{"p":"S0","t":8.8,"Left":18.5,"Right":23},{"p":"S0","t":8.9,"Left":18,"Right":22},
{"p":"S0","t":9.0,"Left":17.5,"Right":21},{"p":"S0","t":9.1,"Left":17,"Right":20.5},{"p":"S0","t":9.2,"Left":17,"Right":20},{"p":"S0","t":9.3,"Left":16.5,"Right":19.5},{"p":"S0","t":9.4,"Left":16.5,"Right":19},{"p":"S0","t":9.5,"Left":16,"Right":19},{"p":"S0","t":9.6,"Left":16,"Right":19},{"p":"S0","t":9.7,"Left":15.5,"Right":18.5},{"p":"S0","t":9.8,"Left":15,"Right":18.5},{"p":"S0","t":9.9,"Left":14.5,"Right":18.5},
{"p":"S0","t":10.0,"Left":14,"Right":18},{"p":"S0","t":10.1,"Left":14,"Right":17},{"p":"S0","t":10.2,"Left":13.5,"Right":16},{"p":"S0","t":10.3,"Left":13,"Right":15.5},{"p":"S0","t":10.4,"Left":12.5,"Right":15},{"p":"S0","t":10.5,"Left":12,"Right":14.5},{"p":"S0","t":10.6,"Left":12,"Right":14},{"p":"S0","t":10.7,"Left":11.5,"Right":14},{"p":"S0","t":10.8,"Left":11,"Right":15},{"p":"S0","t":10.9,"Left":11,"Right":15.5},{"p":"S0","t":11.0,"Left":11,"Right":15.5}
]
},
"vconcat":[
{
"width":1200,"height":231,
"view":{"stroke":null},
"layer":[
{"data":{"name":"track"},"mark":{"type":"line","fill":"#FFC000","stroke":"#3A3A3A","strokeWidth":1,"strokeJoin":"miter"},
"encoding":{"x":{"field":"x","type":"quantitative","scale":{"domain":[49,1249],"nice":false,"zero":false},"axis":null},"y":{"field":"y","type":"quantitative","scale":{"domain":[0,231],"reverse":true,"nice":false,"zero":false},"axis":null},"order":{"field":"o","type":"quantitative"}}},
{"data":{"name":"dims"},"mark":{"type":"rule","color":"#000000","strokeWidth":3.5,"strokeCap":"round"},
"encoding":{"x":{"field":"x","type":"quantitative","scale":{"domain":[49,1249],"nice":false,"zero":false},"axis":null},"x2":{"field":"x2"},"y":{"field":"y","type":"quantitative","scale":{"domain":[0,231],"reverse":true,"nice":false,"zero":false},"axis":null},"y2":{"field":"y2"}}},
{"data":{"name":"rays"},"mark":{"type":"rule","color":"#1F74C0","strokeWidth":4,"strokeCap":"round"},
"encoding":{"x":{"field":"x","type":"quantitative","scale":{"domain":[49,1249],"nice":false,"zero":false},"axis":null},"x2":{"field":"x2"},"y":{"field":"y","type":"quantitative","scale":{"domain":[0,231],"reverse":true,"nice":false,"zero":false},"axis":null},"y2":{"field":"y2"}}},
{"data":{"name":"ears"},"mark":{"type":"point","shape":"triangle-up","filled":true,"fill":"#FFFFFF","stroke":"#000000","strokeWidth":2.5,"size":150,"opacity":1},
"encoding":{"x":{"field":"x","type":"quantitative","scale":{"domain":[49,1249],"nice":false,"zero":false},"axis":null},"y":{"field":"y","type":"quantitative","scale":{"domain":[0,231],"reverse":true,"nice":false,"zero":false},"axis":null},"angle":{"field":"a","type":"quantitative","scale":null}}},
{"data":{"name":"heads"},"mark":{"type":"point","shape":"circle","filled":true,"fill":"#FFFFFF","stroke":"#000000","strokeWidth":3.5,"size":3400,"opacity":1},
"encoding":{"x":{"field":"x","type":"quantitative","scale":{"domain":[49,1249],"nice":false,"zero":false},"axis":null},"y":{"field":"y","type":"quantitative","scale":{"domain":[0,231],"reverse":true,"nice":false,"zero":false},"axis":null}}},
{"data":{"name":"heads"},"mark":{"type":"text","font":"Open Sans","fontWeight":"bold","fontSize":19,"color":"#000000","align":"center","baseline":"middle"},
"encoding":{"x":{"field":"x","type":"quantitative","scale":{"domain":[49,1249],"nice":false,"zero":false},"axis":null},"y":{"field":"y","type":"quantitative","scale":{"domain":[0,231],"reverse":true,"nice":false,"zero":false},"axis":null},"text":{"field":"label"}}},
{"data":{"name":"dimtext"},"mark":{"type":"text","font":"Open Sans","fontWeight":"bold","fontSize":19,"color":"#000000","align":"center","baseline":"middle"},
"encoding":{"x":{"field":"x","type":"quantitative","scale":{"domain":[49,1249],"nice":false,"zero":false},"axis":null},"y":{"field":"y","type":"quantitative","scale":{"domain":[0,231],"reverse":true,"nice":false,"zero":false},"axis":null},"text":{"field":"label"}}}
]
},
{
"columns":3,
"bounds":"flush",
"spacing":{"row":16,"column":12},
"resolve":{"scale":{"color":"independent"},"legend":{"color":"independent"}},
"concat":[
{"width":392,"height":128,"layer":[
{"data":{"name":"loud"},"transform":[{"filter":"datum.p === 'K90'"},{"fold":["Left","Right"],"as":["side","sone"]}],"mark":{"type":"line","strokeWidth":1},
"encoding":{"x":{"field":"t","type":"quantitative","scale":{"domain":[0,11],"nice":false},"axis":{"values":[0,1,2,3,4,5,6,7,8,9,10,11],"labels":false,"title":null,"tickSize":4}},
"y":{"field":"sone","type":"quantitative","scale":{"domain":[0,120],"nice":false},"axis":{"values":[0,10,20,30,40,50,60,70,80,90,100,110,120],"labelOverlap":false,"labelExpr":"datum.value % 20 === 0 ? datum.label : ''","title":null,"tickSize":{"condition":{"test":"datum.value % 20 === 0","value":5},"value":3}}},
"color":{"field":"side","type":"nominal","scale":{"domain":["Left","Right"],"range":["#000000","#D00000"]},"legend":{"title":"KTX, 277 km/h, 90 deg","symbolType":"M-1,0H3"}}}},
{"data":{"name":"green"},"transform":[{"filter":"datum.p === 'K90'"}],"mark":{"type":"rule","color":"#22B14C","strokeWidth":3},
"encoding":{"x":{"field":"t1","type":"quantitative","scale":{"domain":[0,11],"nice":false},"axis":{"values":[0,1,2,3,4,5,6,7,8,9,10,11],"labels":false,"title":null,"tickSize":4}},"x2":{"field":"t2"},
"y":{"field":"s1","type":"quantitative","scale":{"domain":[0,120],"nice":false},"axis":{"values":[0,10,20,30,40,50,60,70,80,90,100,110,120],"labelOverlap":false,"labelExpr":"datum.value % 20 === 0 ? datum.label : ''","title":null,"tickSize":{"condition":{"test":"datum.value % 20 === 0","value":5},"value":3}}},"y2":{"field":"s2"}}}
]},
{"width":392,"height":128,"layer":[
{"data":{"name":"loud"},"transform":[{"filter":"datum.p === 'K45'"},{"fold":["Left","Right"],"as":["side","sone"]}],"mark":{"type":"line","strokeWidth":1},
"encoding":{"x":{"field":"t","type":"quantitative","scale":{"domain":[0,11],"nice":false},"axis":{"values":[0,1,2,3,4,5,6,7,8,9,10,11],"labels":false,"title":null,"tickSize":4}},
"y":{"field":"sone","type":"quantitative","scale":{"domain":[0,120],"nice":false},"axis":{"values":[0,10,20,30,40,50,60,70,80,90,100,110,120],"labels":false,"title":null,"tickSize":{"condition":{"test":"datum.value % 20 === 0","value":5},"value":3}}},
"color":{"field":"side","type":"nominal","scale":{"domain":["Left","Right"],"range":["#000000","#D00000"]},"legend":{"title":"KTX, 277 km/h, 45 deg","symbolType":"M-1,0H3"}}}},
{"data":{"name":"green"},"transform":[{"filter":"datum.p === 'K45'"}],"mark":{"type":"rule","color":"#22B14C","strokeWidth":3},
"encoding":{"x":{"field":"t1","type":"quantitative","scale":{"domain":[0,11],"nice":false},"axis":{"values":[0,1,2,3,4,5,6,7,8,9,10,11],"labels":false,"title":null,"tickSize":4}},"x2":{"field":"t2"},
"y":{"field":"s1","type":"quantitative","scale":{"domain":[0,120],"nice":false},"axis":{"values":[0,10,20,30,40,50,60,70,80,90,100,110,120],"labels":false,"title":null,"tickSize":{"condition":{"test":"datum.value % 20 === 0","value":5},"value":3}}},"y2":{"field":"s2"}}}
]},
{"width":392,"height":128,"layer":[
{"data":{"name":"loud"},"transform":[{"filter":"datum.p === 'K0'"},{"fold":["Left","Right"],"as":["side","sone"]}],"mark":{"type":"line","strokeWidth":1},
"encoding":{"x":{"field":"t","type":"quantitative","scale":{"domain":[0,11],"nice":false},"axis":{"values":[0,1,2,3,4,5,6,7,8,9,10,11],"labels":false,"title":null,"tickSize":4}},
"y":{"field":"sone","type":"quantitative","scale":{"domain":[0,120],"nice":false},"axis":{"values":[0,10,20,30,40,50,60,70,80,90,100,110,120],"labels":false,"title":null,"tickSize":{"condition":{"test":"datum.value % 20 === 0","value":5},"value":3}}},
"color":{"field":"side","type":"nominal","scale":{"domain":["Left","Right"],"range":["#000000","#D00000"]},"legend":{"title":"KTX, 2770 km/h, 0 deg","symbolType":"M-1,0H3"}}}},
{"data":{"name":"green"},"transform":[{"filter":"datum.p === 'K0'"}],"mark":{"type":"rule","color":"#22B14C","strokeWidth":3},
"encoding":{"x":{"field":"t1","type":"quantitative","scale":{"domain":[0,11],"nice":false},"axis":{"values":[0,1,2,3,4,5,6,7,8,9,10,11],"labels":false,"title":null,"tickSize":4}},"x2":{"field":"t2"},
"y":{"field":"s1","type":"quantitative","scale":{"domain":[0,120],"nice":false},"axis":{"values":[0,10,20,30,40,50,60,70,80,90,100,110,120],"labels":false,"title":null,"tickSize":{"condition":{"test":"datum.value % 20 === 0","value":5},"value":3}}},"y2":{"field":"s2"}}}
]},
{"width":392,"height":128,"layer":[
{"data":{"name":"loud"},"transform":[{"filter":"datum.p === 'S90'"},{"fold":["Left","Right"],"as":["side","sone"]}],"mark":{"type":"line","strokeWidth":1},
"encoding":{"x":{"field":"t","type":"quantitative","scale":{"domain":[0,11],"nice":false},"axis":{"values":[0,1,2,3,4,5,6,7,8,9,10,11],"labelOverlap":false,"labelExpr":"datum.value % 2 === 0 ? datum.label : ''","title":"Time (s)","titlePadding":9,"tickSize":4}},
"y":{"field":"sone","type":"quantitative","scale":{"domain":[0,120],"nice":false},"axis":{"values":[0,10,20,30,40,50,60,70,80,90,100,110,120],"labelOverlap":false,"labelExpr":"datum.value % 20 === 0 ? datum.label : ''","title":"Loudness (sone)","titleFontSize":12,"titleY":-1,"titleX":-28,"tickSize":{"condition":{"test":"datum.value % 20 === 0","value":5},"value":3}}},
"color":{"field":"side","type":"nominal","scale":{"domain":["Left","Right"],"range":["#000000","#D00000"]},"legend":{"title":"KTX-Sancheon, 277 km/h, 90 deg","symbolType":"M-1,0H3"}}}},
{"data":{"name":"green"},"transform":[{"filter":"datum.p === 'S90'"}],"mark":{"type":"rule","color":"#22B14C","strokeWidth":3},
"encoding":{"x":{"field":"t1","type":"quantitative","scale":{"domain":[0,11],"nice":false},"axis":{"values":[0,1,2,3,4,5,6,7,8,9,10,11],"labelOverlap":false,"labelExpr":"datum.value % 2 === 0 ? datum.label : ''","title":"Time (s)","titlePadding":9,"tickSize":4}},"x2":{"field":"t2"},
"y":{"field":"s1","type":"quantitative","scale":{"domain":[0,120],"nice":false},"axis":{"values":[0,10,20,30,40,50,60,70,80,90,100,110,120],"labelOverlap":false,"labelExpr":"datum.value % 20 === 0 ? datum.label : ''","title":"Loudness (sone)","titleFontSize":12,"titleY":-1,"titleX":-28,"tickSize":{"condition":{"test":"datum.value % 20 === 0","value":5},"value":3}}},"y2":{"field":"s2"}}}
]},
{"width":392,"height":128,"layer":[
{"data":{"name":"loud"},"transform":[{"filter":"datum.p === 'S45'"},{"fold":["Left","Right"],"as":["side","sone"]}],"mark":{"type":"line","strokeWidth":1},
"encoding":{"x":{"field":"t","type":"quantitative","scale":{"domain":[0,11],"nice":false},"axis":{"values":[0,1,2,3,4,5,6,7,8,9,10,11],"labelOverlap":false,"labelExpr":"datum.value % 2 === 0 ? datum.label : ''","title":"Time (s)","titlePadding":9,"tickSize":4}},
"y":{"field":"sone","type":"quantitative","scale":{"domain":[0,120],"nice":false},"axis":{"values":[0,10,20,30,40,50,60,70,80,90,100,110,120],"labels":false,"title":null,"tickSize":{"condition":{"test":"datum.value % 20 === 0","value":5},"value":3}}},
"color":{"field":"side","type":"nominal","scale":{"domain":["Left","Right"],"range":["#000000","#D00000"]},"legend":{"title":"KTX-Sancheon, 277 km/h, 45 deg","symbolType":"M-1,0H3"}}}},
{"data":{"name":"green"},"transform":[{"filter":"datum.p === 'S45'"}],"mark":{"type":"rule","color":"#22B14C","strokeWidth":3},
"encoding":{"x":{"field":"t1","type":"quantitative","scale":{"domain":[0,11],"nice":false},"axis":{"values":[0,1,2,3,4,5,6,7,8,9,10,11],"labelOverlap":false,"labelExpr":"datum.value % 2 === 0 ? datum.label : ''","title":"Time (s)","titlePadding":9,"tickSize":4}},"x2":{"field":"t2"},
"y":{"field":"s1","type":"quantitative","scale":{"domain":[0,120],"nice":false},"axis":{"values":[0,10,20,30,40,50,60,70,80,90,100,110,120],"labels":false,"title":null,"tickSize":{"condition":{"test":"datum.value % 20 === 0","value":5},"value":3}}},"y2":{"field":"s2"}}}
]},
{"width":392,"height":128,"layer":[
{"data":{"name":"loud"},"transform":[{"filter":"datum.p === 'S0'"},{"fold":["Left","Right"],"as":["side","sone"]}],"mark":{"type":"line","strokeWidth":1},
"encoding":{"x":{"field":"t","type":"quantitative","scale":{"domain":[0,11],"nice":false},"axis":{"values":[0,1,2,3,4,5,6,7,8,9,10,11],"labelOverlap":false,"labelExpr":"datum.value % 2 === 0 ? datum.label : ''","title":"Time (s)","titlePadding":9,"tickSize":4}},
"y":{"field":"sone","type":"quantitative","scale":{"domain":[0,120],"nice":false},"axis":{"values":[0,10,20,30,40,50,60,70,80,90,100,110,120],"labels":false,"title":null,"tickSize":{"condition":{"test":"datum.value % 20 === 0","value":5},"value":3}}},
"color":{"field":"side","type":"nominal","scale":{"domain":["Left","Right"],"range":["#000000","#D00000"]},"legend":{"title":"KTX-Sancheon, 277 km/h, 0 deg","symbolType":"M-1,0H3"}}}},
{"data":{"name":"green"},"transform":[{"filter":"datum.p === 'S0'"}],"mark":{"type":"rule","color":"#22B14C","strokeWidth":3},
"encoding":{"x":{"field":"t1","type":"quantitative","scale":{"domain":[0,11],"nice":false},"axis":{"values":[0,1,2,3,4,5,6,7,8,9,10,11],"labelOverlap":false,"labelExpr":"datum.value % 2 === 0 ? datum.label : ''","title":"Time (s)","titlePadding":9,"tickSize":4}},"x2":{"field":"t2"},
"y":{"field":"s1","type":"quantitative","scale":{"domain":[0,120],"nice":false},"axis":{"values":[0,10,20,30,40,50,60,70,80,90,100,110,120],"labels":false,"title":null,"tickSize":{"condition":{"test":"datum.value % 20 === 0","value":5},"value":3}}},"y2":{"field":"s2"}}}
]}
]
}
],
"config":{
"font":"Liberation Serif",
"view":{"stroke":"#000000","strokeWidth":1},
"axis":{"grid":false,"ticks":true,"domainColor":"#000000","tickColor":"#000000","labelColor":"#000000","labelFont":"Liberation Serif","labelFontSize":8,"labelPadding":1,"labelOverlap":false,"titleFont":"Liberation Serif","titleFontWeight":"normal","titleColor":"#000000","titleFontSize":10},
"legend":{"orient":"top-left","offset":1,"padding":1,"titleFont":"Liberation Serif","titleFontSize":11,"titleFontWeight":"normal","titleColor":"#000000","titleLimit":400,"titlePadding":2,"labelFont":"Liberation Serif","labelFontSize":10,"labelColor":"#000000","symbolSize":132,"symbolStrokeWidth":1,"labelOffset":14,"rowPadding":2}
}
}
